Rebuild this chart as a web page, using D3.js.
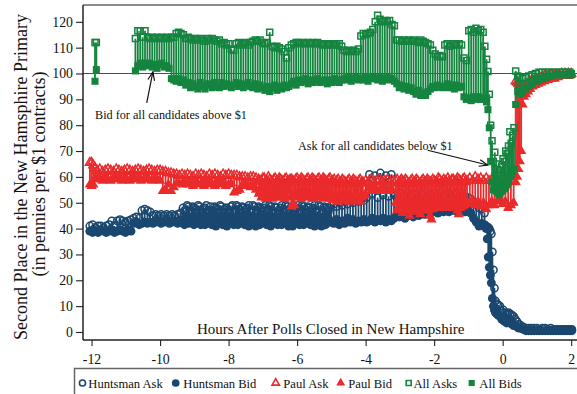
<!DOCTYPE html>
<html>
<head>
<meta charset="utf-8">
<script src="https://cdn.jsdelivr.net/npm/d3@7"></script>
<style>
  body { margin: 0; background: #fff; }
  svg { display: block; }
  text { font-family: "Liberation Serif", "Times New Roman", serif; fill: #111; }
</style>
</head>
<body>
<svg id="chart" width="577" height="394"></svg>
<script>
// Axis ticks
const hourTicks = [-12, -10, -8, -6, -4, -2, 0, 2];
const priceTicks = [0, 10, 20, 30, 40, 50, 60, 70, 80, 90, 100, 110, 120];

// Quotes, one row per observation: [hours after polls closed, ask, bid] in cents
const huntsman = [
  [-12.05,41,39],[-11.97,41.5,38.5],[-11.89,40.5,39],[-11.81,41,38.5],[-11.73,41,39.5],[-11.65,40.5,39],
  [-11.57,41,38.5],[-11.49,41.5,39],[-11.41,43,39.5],[-11.33,41,38.5],[-11.25,43,39],[-11.17,43.5,39.5],
  [-11.09,43,39],[-11.01,42.5,38.5],[-10.93,43,39.5],[-10.85,43.5,39],
  [-10.77,44,42],[-10.69,44.5,42.5],[-10.61,44,41.5],[-10.53,47,42],[-10.45,47.5,42.5],[-10.37,47,42],
  [-10.29,46.5,42.5],[-10.21,45,42],[-10.13,45.5,42.5],[-10.05,45,43],[-9.97,45.5,42],[-9.89,45,42.5],
  [-9.81,45.5,43],[-9.73,45,42],[-9.65,45.5,42.5],[-9.57,45,43],[-9.49,45.5,42],[-9.41,46,42.5],
  [-9.33,48,43],[-9.29,47,41.5],[-9.25,46.5,44],[-9.21,49,43],[-9.17,48.5,42],[-9.13,46,42.5],
  [-9.09,47,43.5],[-9.05,48.5,44],[-9.01,48,41.5],[-8.97,47.5,42],[-8.93,46,44],[-8.89,49,43.5],
  [-8.85,48.5,42.5],[-8.81,46.5,41.5],[-8.77,47.5,43.5],[-8.73,48,44],[-8.69,48,41.5],[-8.65,49,42.5],
  [-8.61,46.5,44.5],[-8.57,47,43],[-8.53,48.5,42],[-8.49,46,41.5],[-8.45,47,43],[-8.41,48.5,44.5],
  [-8.37,48,41],[-8.33,47.5,42],[-8.29,46,44],[-8.25,49,43],[-8.21,48.5,42.5],[-8.17,46.5,41.5],
  [-8.13,47.5,43.5],[-8.09,48,44],[-8.05,48,41],[-8.01,47,42.5],[-7.97,46.5,44],[-7.93,48.5,43.5],
  [-7.89,49,42],[-7.85,46,41.5],[-7.81,47,43.5],[-7.77,49,44],[-7.73,48.5,41.5],[-7.69,47.5,42],
  [-7.65,46,44.5],[-7.61,48.5,43],[-7.57,48,42.5],[-7.53,46.5,41.5],[-7.49,47.5,43],[-7.45,48,44.5],
  [-7.41,49,41],[-7.37,47,42.5],[-7.33,46.5,44],[-7.29,49,43.5],[-7.25,48.5,42],[-7.21,46,41],
  [-7.17,47,43.5],[-7.13,48.5,44],[-7.09,48,41.5],[-7.05,47.5,42.5],[-7.01,46.5,44.5],[-6.97,48,43],
  [-6.93,49,42.5],[-6.89,46.5,41.5],[-6.85,47.5,43],[-6.81,49,44.5],[-6.77,48.5,41],[-6.73,47,42],
  [-6.69,46,44],[-6.65,48.5,43.5],[-6.61,48,42],[-6.57,46,41.5],[-6.53,47,43.5],[-6.49,48,44],
  [-6.45,49,41.5],[-6.41,47.5,42.5],[-6.37,46.5,44.5],[-6.33,49,43],[-6.29,48.5,42.5],[-6.25,46.5,41],
  [-6.21,47.5,43],[-6.17,48.5,44.5],[-6.13,48,41],[-6.09,47,42.5],[-6.05,46.5,44],[-6.01,48,43.5],
  [-5.97,49,42],[-5.93,46,41.5],[-5.89,47,43.5],[-5.85,49,44],[-5.81,48.5,41.5],[-5.77,47.5,42],
  [-5.73,46,44.5],[-5.69,48.5,43],[-5.65,48,42.5],[-5.61,46.5,41.5],[-5.57,47.5,43],[-5.53,48,44.5],
  [-5.49,49,41],[-5.45,47,42.5],[-5.41,46.5,44],[-5.37,49,43.5],[-5.33,48.5,42],[-5.29,46,41],
  [-5.25,47,43.5],[-5.21,48.5,44],[-5.17,48,41.5],[-5.13,47.5,42.5],[-5.09,46.5,44],[-5.05,48,43],
  [-5.01,49,42.5],[-4.93,49.5,42],[-4.85,48.5,43.5],[-4.77,50,41.5],[-4.69,49,43],[-4.61,50.5,42],
  [-4.53,49.5,44],[-4.45,51,42.5],[-4.37,50,43.5],[-4.29,51,42],[-4.21,50.5,43],[-4.13,51.5,42.5],
  [-4.05,51,43.5],[-3.97,52,42.5],[-3.89,61,43],[-3.81,53.5,44],[-3.73,60.5,42.5],[-3.65,52,43.5],
  [-3.57,61.5,43],[-3.49,53,44],[-3.41,60.5,42.5],[-3.33,52.5,43.5],[-3.25,61,43],
  [-3.17,53,44],[-3.09,52,45],[-3.01,53.5,44.5],[-2.93,52.5,45.5],[-2.85,53,44],[-2.77,54,45],
  [-2.69,52.5,45.5],[-2.61,53,44.5],[-2.53,53.5,46],[-2.45,52,45],[-2.37,53,46],[-2.29,54,45.5],
  [-2.21,52.5,46.5],[-2.13,53,45.5],[-2.05,53.5,46.5],[-1.97,52.5,47],[-1.89,53,46],[-1.81,54,47],
  [-1.73,52.5,46.5],[-1.65,53,47.5],[-1.57,53.5,46.5],[-1.49,52.5,47],[-1.41,53,47.5],[-1.33,54,46.5],
  [-1.25,52.5,47],[-1.17,53,47.5],[-1.09,52.5,46.5],[-1.01,52,47],[-0.93,51.5,46],[-0.85,50.5,44],
  [-0.77,49.5,42.5],[-0.69,48,41],[-0.61,47.5,42],[-0.53,46,41.5],
  [-0.48,41,40],[-0.45,40.5,36],[-0.42,40.5,29],[-0.39,40,25],[-0.36,39,22],[-0.33,38,19],
  [-0.3,31,13],[-0.27,24,10],[-0.24,17,8.5],[-0.21,12,7.5],[-0.17,11,7],[-0.13,10.5,6.5],
  [-0.08,10,6],[-0.03,8,5],[0.02,8.5,4.5],[0.07,7.5,4],[0.12,7,3.5],[0.17,7.5,4.5],
  [0.22,7,4],[0.27,6.5,3],[0.32,6,2.5],[0.37,5,2.5],[0.42,4,2],[0.47,3,1.5],
  [0.53,2.5,1.5],[0.6,2,1],[0.68,1.5,0.5],[0.76,1.5,0.5],[0.84,1.5,0.5],[0.92,1.5,0.5],
  [1.0,1.5,0.5],[1.08,1,0.5],[1.16,1.5,0.5],[1.24,1.5,0.5],[1.32,1,0.5],[1.4,1.5,0.5],
  [1.48,1,0.5],[1.56,1,0.5],[1.64,1,0.5],[1.72,1,0.5],[1.8,1,0.5],[1.88,1,0.5],
  [1.96,1,0.5],[2.02,1,0.5]
];

const paul = [
  [-12.05,65.5,57],[-12.0,65.5,56.5],[-11.95,64.5,57],[-11.9,63.5,59.5],
  [-11.84,62.5,59],[-11.76,63,59.5],[-11.68,62,58.5],[-11.6,62.5,60],[-11.52,63,59],[-11.44,62.5,58.5],
  [-11.36,62,59.5],[-11.28,63,59],[-11.2,62.5,60],[-11.12,62,58.5],[-11.04,62.5,59.5],[-10.96,63,59],
  [-10.88,62.5,58.5],[-10.8,62,60],[-10.72,62.5,59],[-10.64,63,59.5],[-10.56,62.5,58.5],[-10.48,62,59],
  [-10.4,62.5,60],[-10.32,63,59],[-10.24,62.5,58.5],[-10.16,62,59.5],[-10.08,62.5,59],[-10.0,62.5,58.5],
  [-9.92,62,54.5],[-9.84,62,55],[-9.76,61.5,57],[-9.68,61.5,54.5],[-9.6,61,56],[-9.52,61,57.5],
  [-9.44,60.5,57.5],[-9.36,61,57],[-9.28,60.5,58],[-9.2,61,57],[-9.12,60.5,57.5],[-9.04,60,56.5],
  [-8.96,61,58],[-8.88,60.5,57],[-8.8,61,57.5],[-8.72,60.5,56.5],[-8.64,60,58],[-8.56,61,57],
  [-8.48,60.5,57.5],[-8.4,61,56.5],[-8.32,60.5,58],[-8.24,60,57],[-8.16,61,57.5],[-8.08,60.5,56.5],
  [-8.0,61,57],[-7.92,60.5,57.5],[-7.84,60.5,54],[-7.76,60.5,54.5],[-7.68,60,55],[-7.6,60,57],
  [-7.52,60,56.5],[-7.44,59.5,57],[-7.36,60,56],[-7.28,60,57],[-7.2,59.5,55],
  [-7.12,59,53.5],[-7.08,58.5,54.5],[-7.04,58,52],[-7.0,59.5,53],[-6.96,59.5,54.5],[-6.92,58,51.5],
  [-6.88,58.5,52.5],[-6.84,60,55],[-6.8,59,54],[-6.76,58.5,52],[-6.72,58,51.5],[-6.68,59,54.5],
  [-6.64,59.5,53.5],[-6.6,58,52],[-6.56,58.5,55],[-6.52,59.5,53],[-6.48,59,52],[-6.44,58.5,54.5],
  [-6.4,58,54],[-6.36,59,51.5],[-6.32,59.5,52.5],[-6.28,58,55],[-6.24,58.5,54.5],[-6.2,59,52],
  [-6.16,59,48.5],[-6.12,58.5,50],[-6.08,58,49],[-6.04,59,53.5],[-6.0,59.5,52],[-5.96,58,54.5],
  [-5.92,58.5,54],[-5.88,59.5,51.5],[-5.84,59,52.5],[-5.8,58.5,54],[-5.76,58,55],[-5.72,59,53],
  [-5.68,59.5,52],[-5.64,58,54.5],[-5.6,58.5,53.5],[-5.56,59.5,51.5],[-5.52,59,51.5],[-5.48,58.5,53],
  [-5.44,58,54.5],[-5.4,59,52],[-5.36,59.5,52.5],[-5.32,58,55],[-5.28,58.5,54],[-5.24,59.5,51.5],
  [-5.2,59,52],[-5.16,58.5,54.5],[-5.12,58,53.5],[-5.08,59,52],[-5.04,59.5,51.5],[-5.0,58,53.5],
  [-4.96,58.5,51],[-4.92,59,52],[-4.88,57.5,53],[-4.84,58.5,50.5],[-4.8,59,50.5],[-4.76,57.5,52],
  [-4.72,58,52.5],[-4.68,59,51.5],[-4.64,58.5,51],[-4.6,58,53],[-4.56,57.5,53.5],[-4.52,58.5,50.5],
  [-4.48,59,50.5],[-4.44,57.5,52.5],[-4.4,58,52],[-4.36,59,51],[-4.32,58.5,51],[-4.28,58,53.5],
  [-4.24,57.5,53],[-4.2,58.5,50.5],[-4.16,59,50.5],[-4.12,57.5,52],[-4.08,58,52.5],
  [-4.0,58.5,53],[-3.92,58,55.5],[-3.84,59,54.5],[-3.76,58,56],[-3.68,58.5,55],[-3.6,59,54.5],
  [-3.52,58,56],[-3.44,58.5,55],[-3.36,59,54.5],[-3.28,58,55.5],[-3.2,58.5,54.5],
  [-3.12,58.5,50],[-3.08,59,47],[-3.04,57.5,48.5],[-3.0,58,50.5],[-2.96,59,50],[-2.92,58.5,46],
  [-2.88,58,47.5],[-2.84,59,49.5],[-2.8,58.5,49],[-2.76,57.5,47],[-2.72,57.5,45],[-2.68,58.5,48.5],
  [-2.64,59,48],[-2.6,58,50],[-2.56,58,46.5],[-2.52,59,48],[-2.48,58.5,49.5],[-2.44,57.5,46.5],
  [-2.4,57.5,45.5],[-2.36,58.5,49],[-2.32,59,48],[-2.28,58,47],[-2.24,58,49.5],[-2.2,59,48.5],
  [-2.16,58.5,47],[-2.12,58,45],[-2.08,58,43.5],[-2.04,59,47.5],[-2.0,58.5,48.5],[-1.96,58,50],
  [-1.92,58,49.5],[-1.88,59.5,48],[-1.84,59,48.5],[-1.8,58,49.5],[-1.76,57.5,50.5],[-1.72,59,48],
  [-1.68,58.5,49],[-1.64,58,50.5],[-1.6,59.5,50],[-1.56,58.5,48],[-1.52,58,48.5],[-1.48,59,49.5],
  [-1.44,59,50.5],[-1.4,58,48.5],[-1.36,58.5,49],[-1.32,59.5,47],[-1.28,59,45.5],[-1.24,58.5,48],
  [-1.2,58,50],[-1.16,59,48.5],[-1.12,59.5,49],[-1.08,58,50],[-1.04,58.5,50.5],
  [-0.96,59.5,49.5],[-0.88,58.5,51],[-0.8,60,49],[-0.72,59,50.5],[-0.64,59.5,48.5],[-0.56,58.5,50],
  [-0.48,59.5,47.5],[-0.4,58.5,49],[-0.32,59,50.5],[-0.24,58,49],[-0.16,59,50.5],[-0.08,58.5,51],
  [0.0,59,49.5],[0.08,58,50.5],[0.16,58.5,48],[0.24,59,49],[0.32,58,50],
  [0.38,97,58],[0.42,96.5,60],[0.46,96,63],[0.5,95.5,66],[0.54,95,70],[0.58,94.5,88],
  [0.62,94,91],[0.68,95.5,92],[0.74,96,93],[0.8,97,94],[0.88,97.5,95],[0.96,98,95.5],
  [1.04,98,96],[1.12,98.5,96.5],[1.22,99,97],[1.32,99,97.5],[1.42,99.5,98],[1.52,99.5,98],
  [1.62,99.5,98.5],[1.72,100,99],[1.82,100,99],[1.92,100,99],[2.0,100,99.5]
];

// Sum of asks and sum of bids across all candidates
const allCandidates = [
  [-11.9,112,97],[-11.86,112,101.5],
  [-10.72,113.5,101],[-10.65,116.5,103],[-10.58,116.5,104],[-10.51,114,102.5],[-10.44,116.5,104],[-10.37,114,103],
  [-10.3,113.5,104],[-10.23,114,102.5],[-10.16,113.5,103.5],[-10.09,114,102],[-10.02,113.5,103.5],[-9.95,114,104],
  [-9.88,113.5,102.5],[-9.81,114,103],[-9.74,113.5,102],[-9.67,114,98],
  [-9.6,114,97.5],[-9.53,115.5,97],[-9.46,116,98],[-9.39,115.5,96.5],[-9.32,115,97.5],[-9.25,113.5,95.5],
  [-9.18,114,96.5],[-9.11,113.5,94.5],[-9.04,113,96],[-8.97,113.5,95],[-8.9,113,94],[-8.83,113.5,96.5],
  [-8.76,113,95],[-8.69,112.5,94],[-8.62,113.5,96],[-8.55,113,95.5],[-8.48,113.5,94.5],[-8.41,113,96.5],
  [-8.34,112.5,95],[-8.27,113,94.5],
  [-8.2,111.5,96.5],[-8.13,112,95],[-8.06,111,96],[-7.99,111.5,95.5],[-7.92,109.5,94.5],[-7.85,109,95.5],
  [-7.78,111.5,96.5],[-7.71,112,95],[-7.64,111,96],[-7.57,111.5,94.5],[-7.5,112,95.5],[-7.43,111,96.5],
  [-7.36,112,95],[-7.29,112.5,94.5],
  [-7.22,113,96],[-7.15,112.5,94],[-7.08,113,95.5],[-7.01,112,94.5],[-6.94,111.5,93.5],[-6.87,112,95],
  [-6.8,116,93],[-6.73,110.5,94.5],[-6.66,110,95.5],[-6.59,110.5,93.5],[-6.52,110,95],[-6.45,109.5,94],
  [-6.38,108.5,95.5],[-6.31,106,94.5],[-6.24,110,95],
  [-6.17,111,96],[-6.1,111.5,97],[-6.03,112,95.5],[-5.96,112,97.5],[-5.89,111.5,96.5],[-5.82,112,97],
  [-5.75,111.5,98],[-5.68,112,96],[-5.61,111.5,97.5],[-5.54,112,96.5],[-5.47,111.5,97],[-5.4,112,98],
  [-5.33,111.5,96.5],[-5.26,111,97],[-5.19,111.5,97.5],[-5.12,111,96],[-5.05,111.5,97.5],[-4.98,111,96.5],
  [-4.91,111.5,98],[-4.84,111,97],[-4.77,111.5,96.5],[-4.7,110.5,97.5],
  [-4.63,109,98],[-4.56,108.5,97.5],[-4.49,109,98.5],[-4.42,108.5,97],[-4.35,109,98],[-4.28,108.5,98.5],
  [-4.21,109.5,97.5],
  [-4.14,114.5,98],[-4.07,115.5,97.5],[-4.0,115,98.5],[-3.93,115.5,97],[-3.86,116,98],[-3.79,117,98.5],
  [-3.72,120,98],[-3.65,122.5,97.5],[-3.58,121,98.5],[-3.51,120,97],[-3.44,120.5,98],[-3.37,120,98.5],
  [-3.3,120.5,97.5],[-3.23,119,98],[-3.16,118.5,97],
  [-3.09,113,96],[-3.02,113,94.5],[-2.95,112.5,95.5],[-2.88,113,94],[-2.81,112.5,95],[-2.74,113,93.5],
  [-2.67,112.5,94.5],[-2.6,113,93],[-2.53,112.5,92],[-2.46,112,93.5],[-2.39,113,91.5],[-2.32,112.5,92.5],
  [-2.25,112,91.5],[-2.18,111.5,93],[-2.11,111,94],
  [-2.04,109,95],[-1.97,107.5,94.5],[-1.9,106.5,95.5],[-1.83,107,95],[-1.76,106.5,94.5],
  [-1.69,111,95],[-1.62,111.5,96],[-1.55,110.5,94.5],[-1.48,111,95.5],[-1.41,111.5,94],[-1.34,111,95.5],
  [-1.27,111.5,94.5],[-1.2,111,95],[-1.13,106,91],[-1.06,105,90],
  [-0.99,116.5,90.5],[-0.92,117,89.5],[-0.85,116,91],[-0.78,117.5,90],[-0.71,116.5,91],[-0.64,117,90],
  [-0.57,116,90.5],[-0.52,110.5,90],[-0.47,105.5,89],[-0.43,100.8,86],
  [-0.39,92,79],[-0.35,80,66],[-0.31,74,58],[-0.27,66,55],[-0.23,69.5,56],[-0.19,65,54.5],
  [-0.15,63,54],[-0.11,61,53],[-0.07,62.5,54],[-0.03,64,54.5],[0.01,67,55],[0.05,66,55.5],
  [0.09,70,56],[0.13,69,57],[0.17,72,58],[0.21,77.5,60],[0.25,73,61],[0.29,76,62],
  [0.33,79,63],[0.38,101,88],[0.44,99,93],[0.5,98.5,92],[0.58,98,92.5],[0.66,98.5,94],
  [0.76,99,95],[0.86,99.5,96],[0.96,100,97],[1.06,100.5,97.5],[1.16,100.5,98],[1.26,100.5,98.5],
  [1.36,100.5,99],[1.46,100.5,99],[1.56,100.5,99.5],[1.66,100.5,99.5],[1.76,100.5,99.5],[1.86,100.5,99.5],
  [1.96,100.5,99.5],[2.0,100,99.5]
];

const legendLabels = ["Huntsman Ask", "Huntsman Bid", "Paul Ask", "Paul Bid", "All Asks", "All Bids"];

const navy = "#1a476f", red = "#ea2a2b", green = "#14843f", purple = "#7d2b82";
const serif = "'Liberation Serif', 'Times New Roman', serif";

const svg = d3.select("#chart");
const x = d3.scaleLinear().domain([-12.25, 2.17]).range([83, 577]);
const y = d3.scaleLinear().domain([-3.1, 126.5]).range([340, 5]);

// one-dollar reference line
svg.append("line")
  .attr("x1", x(-12.25)).attr("x2", x(2.17))
  .attr("y1", y(100)).attr("y2", y(100))
  .attr("stroke", purple).attr("stroke-width", 1.2);

const shapes = {
  circle: { type: d3.symbolCircle, filled: 62, hollow: 42 },
  triangle: { type: d3.symbolTriangle, filled: 46, hollow: 34 },
  square: { type: d3.symbolSquare, filled: 50, hollow: 36 }
};

function drawQuotes(rows, color, shapeKey) {
  const s = shapes[shapeKey];
  const g = svg.append("g");
  // spike from bid up to ask at each quote
  g.selectAll("line").data(rows).join("line")
    .attr("x1", d => x(d[0])).attr("x2", d => x(d[0]))
    .attr("y1", d => y(d[1])).attr("y2", d => y(d[2]))
    .attr("stroke", color).attr("stroke-width", 1.8);
  g.selectAll("path.ask").data(rows).join("path").attr("class", "ask")
    .attr("d", d3.symbol(s.type, s.hollow))
    .attr("transform", d => `translate(${x(d[0])},${y(d[1])})`)
    .attr("fill", "none").attr("stroke", color).attr("stroke-width", 1.5);
  g.selectAll("path.bid").data(rows).join("path").attr("class", "bid")
    .attr("d", d3.symbol(s.type, s.filled))
    .attr("transform", d => `translate(${x(d[0])},${y(d[2])})`)
    .attr("fill", color);
}

drawQuotes(huntsman, navy, "circle");
drawQuotes(paul, red, "triangle");
drawQuotes(allCandidates, green, "square");

// plot frame: top rule, axes
svg.append("line").attr("x1", 83).attr("x2", 577).attr("y1", 5).attr("y2", 5)
  .attr("stroke", "#666").attr("stroke-width", 1.5);

const yAxis = svg.append("g").attr("transform", "translate(83,0)")
  .call(d3.axisLeft(y).tickValues(priceTicks).tickSize(7).tickPadding(3).tickFormat(d3.format("d")));
const xAxis = svg.append("g").attr("transform", "translate(0,340)")
  .call(d3.axisBottom(x).tickValues(hourTicks).tickSize(6).tickPadding(8).tickFormat(d => String(d)));
[yAxis, xAxis].forEach(a => {
  a.attr("font-family", null);
  a.select(".domain").attr("stroke", "#222").attr("stroke-width", 1.5);
  a.selectAll(".tick line").attr("stroke", "#222").attr("stroke-width", 1.1);
  a.selectAll(".tick text").style("font-family", serif).attr("font-size", 13.8).attr("fill", "#222");
});
xAxis.select(".domain").attr("d", "M83,0H577");
yAxis.select(".domain").attr("d", "M0,5V340");

// axis titles
const yTitle = svg.append("g").attr("font-size", 18);
yTitle.append("text").attr("transform", "translate(26.5,177) rotate(-90)")
  .attr("text-anchor", "middle").style("font-family", serif)
  .text("Second Place in the New Hamsphire Primary");
yTitle.append("text").attr("transform", "translate(45,174) rotate(-90)")
  .attr("text-anchor", "middle").style("font-family", serif)
  .text("(in pennies per $1 contracts)");
svg.append("text").attr("x", 197).attr("y", 334).attr("font-size", 15).style("font-family", serif)
  .text("Hours After Polls Closed in New Hampshire");

// annotations
function arrow(x0, y0, x1, y1) {
  const ang = Math.atan2(y1 - y0, x1 - x0), len = 9, spread = 0.38;
  const g = svg.append("g").attr("stroke", "#111").attr("stroke-width", 1.2).attr("fill", "none");
  g.append("line").attr("x1", x0).attr("y1", y0).attr("x2", x1).attr("y2", y1);
  g.append("path").attr("d",
    `M${x1 - len * Math.cos(ang - spread)},${y1 - len * Math.sin(ang - spread)}L${x1},${y1}` +
    `L${x1 - len * Math.cos(ang + spread)},${y1 - len * Math.sin(ang + spread)}`);
}
svg.append("text").attr("x", 95).attr("y", 118.5).attr("font-size", 12.2).style("font-family", serif)
  .text("Bid for all candidates above $1");
arrow(x(-10.39), y(88.6), x(-10.21), y(100.6));
svg.append("text").attr("x", 298).attr("y", 150).attr("font-size", 12.2).style("font-family", serif)
  .text("Ask for all candidates below $1");
arrow(x(-2.19), y(70.3), x(-0.44), y(64.6));

// legend
const legend = svg.append("g");
legend.append("rect").attr("x", 74.5).attr("y", 368.5).attr("width", 520).attr("height", 40)
  .attr("fill", "#fff").attr("stroke", "#666").attr("stroke-width", 1.5);
const legendItems = [
  { shape: "circle", filled: false, color: navy, mx: 82.5, tx: 88.3 },
  { shape: "circle", filled: true, color: navy, mx: 175.7, tx: 183.3 },
  { shape: "triangle", filled: false, color: red, mx: 275.7, tx: 283.3 },
  { shape: "triangle", filled: true, color: red, mx: 340.7, tx: 348.3 },
  { shape: "square", filled: false, color: green, mx: 408.7, tx: 413.5 },
  { shape: "square", filled: true, color: green, mx: 471.7, tx: 479.3 }
];
legendItems.forEach((it, i) => {
  const s = shapes[it.shape];
  legend.append("path")
    .attr("d", d3.symbol(s.type, it.filled ? s.filled * 0.75 : s.hollow * 0.7))
    .attr("transform", `translate(${it.mx},383)`)
    .attr("fill", it.filled ? it.color : "none")
    .attr("stroke", it.filled ? "none" : it.color).attr("stroke-width", 1.6);
  legend.append("text").attr("x", it.tx).attr("y", 387.5).attr("font-size", 12.6)
    .style("font-family", serif).text(legendLabels[i]);
});
</script>
</body>
</html>
